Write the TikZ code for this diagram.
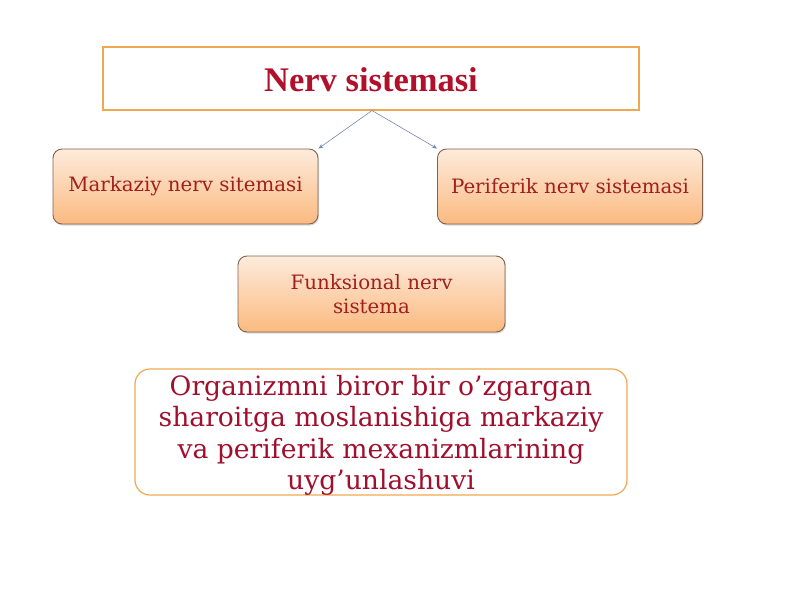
\documentclass[tikz,border=0pt]{standalone}
\usepackage{fontspec}
\setmainfont{DejaVu Serif}
\newfontfamily\titlefont{Liberation Serif}
\usetikzlibrary{arrows.meta,shadows}
\definecolor{orangeb}{HTML}{F0A850}
\definecolor{titlered}{HTML}{B0102A}
\definecolor{boxtext}{HTML}{A02020}
\definecolor{peachtop}{HTML}{FDEBDC}
\definecolor{peachbot}{HTML}{FBBA80}
\definecolor{edgebrown}{HTML}{806450}
\definecolor{linkblue}{HTML}{7888A8}
\definecolor{bigred}{HTML}{A0102E}
\tikzset{
  titlebox/.style={draw=orangeb, line width=1.2pt, fill=white, minimum width=536pt, minimum height=63pt, inner sep=0pt},
  peachbox/.style={draw=edgebrown, line width=0.9pt, rounded corners=9pt, top color=peachtop, bottom color=peachbot, minimum width=265pt, minimum height=75pt, inner sep=0pt, text=boxtext, font=\fontsize{19.8}{24}\selectfont, align=center, drop shadow={opacity=0.3, shadow xshift=1pt, shadow yshift=-1.5pt}},
  notebox/.style={draw=orangeb, line width=1.2pt, rounded corners=15pt, fill=white, minimum width=492pt, minimum height=126pt, inner sep=0pt},
  notetext/.style={text=bigred, font=\fontsize{26.6}{31.5}\selectfont, align=center, inner sep=0pt},
  link/.style={draw=linkblue, line width=0.6pt, -{Stealth[length=5pt,width=4pt]}}
}
\begin{document}
\begin{tikzpicture}[x=1pt,y=-1pt]
\useasboundingbox[fill=white] (0,0) rectangle (800,600);
\node[titlebox] (title) at (371,78.5) {};
\node[text=titlered, font=\titlefont\bfseries\fontsize{34.5}{38}\selectfont] (titletext) at (371,80) {Nerv sistemasi};
\node[peachbox] (mark) at (185.5,186.5) {Markaziy nerv sitemasi};
\node[peachbox] (peri) at (570,186.5) {Periferik nerv sistemasi};
\node[peachbox, minimum width=267pt, minimum height=76pt] (funk) at (371.5,294) {Funksional nerv\\sistema};
\node[notebox] (note) at (381,432) {};
\node[notetext] (notetxt) at (381,435.5) {Organizmni biror bir o’zgargan\\sharoitga moslanishiga markaziy\\va periferik mexanizmlarining\\uyg’unlashuvi};
\coordinate (top) at (372,110.5);
\draw[link] (top) -- (mark.north east);
\draw[link] (top) -- (peri.north west);
\end{tikzpicture}
\end{document}
